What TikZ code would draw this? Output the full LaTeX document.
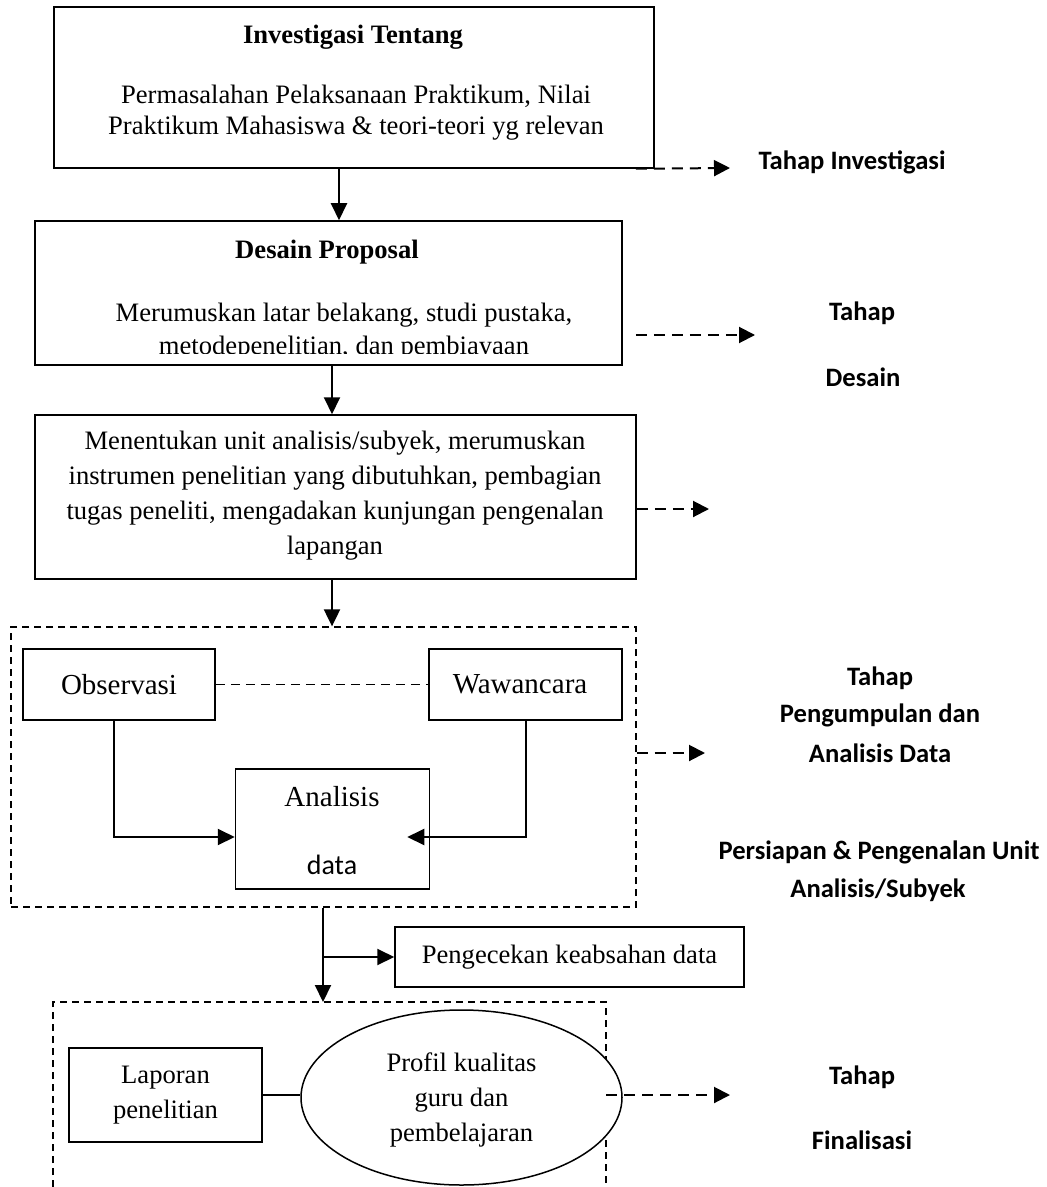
\documentclass[tikz,border=0pt]{standalone}
\usepackage{fontspec}
\setmainfont{Liberation Serif}
\newfontfamily\calib{Carlito}
\usetikzlibrary{arrows.meta,shapes.geometric}
\begin{document}
\begin{tikzpicture}[x=0.5pt,y=-0.5pt,
  box/.style={draw,line width=0.75pt,inner sep=0pt,rectangle},
  txt/.style={font=\fontsize{13.3}{15.5}\selectfont,align=center,inner sep=0pt},
  txtw/.style={font=\fontsize{13.3}{17.5}\selectfont,align=center,inner sep=0pt},
  txtb/.style={font=\fontsize{14.5}{17.5}\selectfont,align=center,inner sep=0pt},
  ttl/.style={font=\bfseries\fontsize{13.3}{15.5}\selectfont,inner sep=0pt},
  lbl/.style={font=\calib\bfseries\fontsize{13.3}{16}\selectfont,inner sep=0pt},
  arr/.style={line width=1pt,-{Triangle[length=8.5pt,width=8pt]}},
  darr/.style={line width=1pt,dash pattern=on 5.5pt off 3.5pt,-{Triangle[length=8pt,width=8pt]}},
  dline/.style={line width=0.65pt,dash pattern=on 3.5pt off 2.5pt},
  dbox/.style={draw,dline,inner sep=0pt,rectangle}]
\useasboundingbox (0,0) rectangle (1046,1187);

% boxes
\node[box,minimum width=300pt,minimum height=80.5pt] (inv) at (354,87.5) {};
\node[ttl] (invt) at (353,37) {Investigasi Tentang};
\node[txt] (invb) at (356,112.5) {Permasalahan Pelaksanaan Praktikum, Nilai\\Praktikum Mahasiswa \& teori-teori yg relevan};

\node[box,minimum width=293.5pt,minimum height=72pt] (des) at (328.5,293) {};
\node[ttl] (dest) at (327,252) {Desain Proposal};
\begin{scope}
\clip (des.north west) rectangle (622,353);
\node[font=\fontsize{13.3}{16.5}\selectfont,align=center,inner sep=0pt] (desb) at (344,332) {Merumuskan latar belakang, studi pustaka,\\metodepenelitian, dan pembiayaan};
\end{scope}

\node[box,minimum width=300.5pt,minimum height=82pt] (men) at (335.5,497) {};
\node[txtw] (menb) at (335,495.5) {Menentukan unit analisis/subyek, merumuskan\\instrumen penelitian yang dibutuhkan, pembagian\\tugas peneliti, mengadakan kunjungan pengenalan\\lapangan};

\node[dbox,minimum width=312.5pt,minimum height=140pt] (dbox1) at (323.5,767) {};
\node[box,minimum width=96pt,minimum height=35.5pt,txtb] (obs) at (119,684.5) {Observasi};
\node[box,minimum width=96.5pt,minimum height=35.5pt] (waw) at (525.5,684.5) {};
\node[txtb] (wawt) at (520,684.5) {Wawancara};
\node[box,minimum width=97pt,minimum height=60pt] (ana) at (332.5,829) {};
\node[txtb] (anat) at (332,797) {Analisis};
\node[font=\calib\fontsize{14}{16}\selectfont,inner sep=0pt] (anad) at (332,865) {data};

\node[box,minimum width=174.5pt,minimum height=30pt,txt] (pen) at (569.5,957) {Pengecekan keabsahan data};

% dashed box 2 (open at the bottom)
\coordinate (d2top) at (323,1002);
\coordinate (d2r) at (606,1095);
\draw[dline] (53,1187) -- (53,1002) -- (606,1002) -- (606,1187);

\node[box,minimum width=96.5pt,minimum height=47pt,txtw] (lap) at (165.5,1095) {Laporan\\penelitian};
\node[ellipse,draw,fill=white,line width=0.75pt,inner sep=0pt,minimum width=160.5pt,minimum height=87.5pt] (ell) at (461.5,1097.5) {};
\node[txtw] (ellt) at (461.5,1100) {Profil kualitas\\guru dan\\pembelajaran};

% right labels
\node[lbl] (l1) at (852,162) {Tahap Investigasi};
\node[lbl] (l2) at (862,313) {Tahap};
\node[lbl] (l3) at (863,377) {Desain};
\node[lbl] (l4) at (880,678) {Tahap};
\node[lbl] (l5) at (880,715) {Pengumpulan dan};
\node[lbl] (l6) at (880,753) {Analisis Data};
\node[lbl] (l7) at (879,852) {Persiapan \& Pengenalan Unit};
\node[lbl] (l8) at (878,890) {Analisis/Subyek};
\node[lbl] (l9) at (862,1077) {Tahap};
\node[lbl] (l10) at (862,1140) {Finalisasi};

% solid connectors
\coordinate (ax1) at (339,0);
\coordinate (ax2) at (332,0);
\coordinate (ax3) at (323,0);
\draw[arr] (ax1 |- inv.south) -- (ax1 |- des.north);
\draw[arr] (ax2 |- des.south) -- (ax2 |- men.north);
\draw[arr] (ax2 |- men.south) -- (ax2 |- dbox1.north);
\draw[arr] ([xshift=-2.5pt]obs.south) |- ([yshift=-4pt]ana.west);
\draw[arr] (waw.south) |- ([xshift=-11.5pt,yshift=-4pt]ana.east);
\draw[dline,line width=0.7pt,dash pattern=on 4.5pt off 3pt] (obs.east) -- (waw.west);
\draw[arr] (ax3 |- dbox1.south) -- (d2top);
\draw[arr] (ax3 |- pen.west) -- (pen.west);
\draw[line width=0.75pt] (lap.east) -- (ell.west |- lap.east);

% dashed arrows to the stage labels
\coordinate (t1) at (730,168);
\coordinate (t2) at (755,335);
\coordinate (t3) at (709,509);
\coordinate (t4) at (705,753);
\coordinate (t5) at (730,1095);
\draw[darr] ([xshift=-9.5pt]inv.south east) -- (t1);
\draw[darr] (des.east |- t2) ++(13,0) -- (t2);
\draw[darr] (men.east |- t3) -- (t3);
\draw[darr] (dbox1.east |- t4) -- (t4);
\draw[darr] (d2r) -- (t5);
\end{tikzpicture}
\end{document}
